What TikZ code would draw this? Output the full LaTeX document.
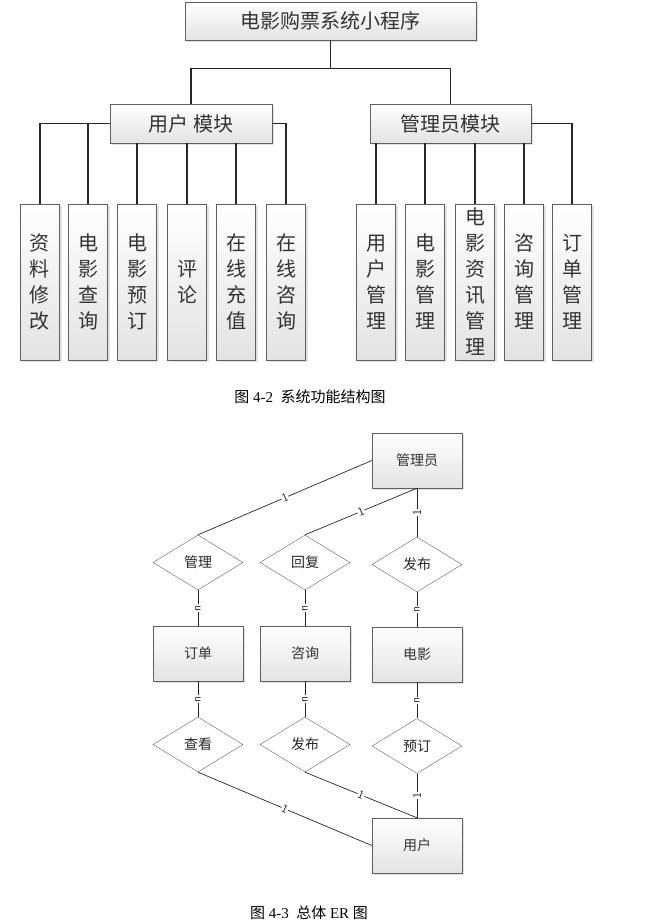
\documentclass[tikz,border=0pt]{standalone}
\usepackage{fontspec}
\setmainfont{Liberation Serif}
\newfontfamily\cjk{Noto Sans CJK SC}
\usetikzlibrary{shapes.geometric,shadows}

\begin{document}
\begin{tikzpicture}[x=1pt,y=-1pt,
        box/.style={draw=gray!75!black, top color=white, bottom color=gray!22,
            drop shadow={shadow xshift=2pt,shadow yshift=-2pt,fill=gray!45},
            text=black!80, inner sep=0pt, font=\cjk\fontsize{20}{26}\selectfont},
        leaf/.style={box, minimum width=39pt, minimum height=156pt, align=center},
        ent/.style={box, minimum width=90pt, minimum height=55pt, font=\cjk\fontsize{14}{16}\selectfont},
        rel/.style={diamond, draw=gray!75!black, fill=white, aspect=1.64, minimum width=90pt,
            minimum height=55pt, inner sep=0pt, text=black!85, font=\cjk\fontsize{14}{16}\selectfont},
        card/.style={fill=white, inner sep=0.6pt, font=\sffamily\fontsize{12}{12}\selectfont},
        tree/.style={line width=1.2pt, black!85},
        link/.style={line width=0.7pt, gray!30!black},
        caption/.style={inner sep=0pt, font=\fontsize{15}{15}\selectfont}]
        \useasboundingbox (0,0) rectangle (646,922);
        % system function structure
        \node[box, minimum width=291pt, minimum height=38pt] (sys) at (330.5,21) {电影购票系统小程序};
        \node[box, minimum width=162pt, minimum height=39pt] (umod) at (191,123.5) {用户 模块};
        \node[box, minimum width=161pt, minimum height=39pt] (amod) at (450.5,123.5) {管理员模块};
        \node[leaf] (u1) at (40,282) {资\\料\\修\\改};
        \node[leaf] (u2) at (88,282) {电\\影\\查\\询};
        \node[leaf] (u3) at (137,282) {电\\影\\预\\订};
        \node[leaf] (u4) at (187,282) {评\\论};
        \node[leaf] (u5) at (236,282) {在\\线\\充\\值};
        \node[leaf] (u6) at (286,282) {在\\线\\咨\\询};
        \node[leaf] (a1) at (376,282) {用\\户\\管\\理};
        \node[leaf] (a2) at (425,282) {电\\影\\管\\理};
        \node[leaf] (a3) at (475,282) {电\\影\\资\\讯\\管\\理};
        \node[leaf] (a4) at (524,282) {咨\\询\\管\\理};
        \node[leaf] (a5) at (572,282) {订\\单\\管\\理};
        \draw[tree] (sys.south) -- ++(0,28) coordinate (split);
        \draw[tree] (split) -| (umod.north);
        \draw[tree] (split) -| (amod.north);
        \draw[tree] (umod.west) -| (u1.north);
        \draw[tree] (umod.west) -| (u2.north);
        \draw[tree] (u3.north) -- (u3.north |- umod.south);
        \draw[tree] (u4.north) -- (u4.north |- umod.south);
        \draw[tree] (u5.north) -- (u5.north |- umod.south);
        \draw[tree] (umod.east) -| (u6.north);
        \draw[tree] (a1.north) -- (a1.north |- amod.south);
        \draw[tree] (a2.north) -- (a2.north |- amod.south);
        \draw[tree] (a3.north) -- (a3.north |- amod.south);
        \draw[tree] (a4.north) -- (a4.north |- amod.south);
        \draw[tree] (amod.east) -| (a5.north);
        \node[caption] (cap1) at (310,397) {{\cjk 图} 4-2\ \ {\cjk 系统功能结构图}};
        % overall ER diagram
        \node[ent] (admin) at (417,460.5) {管理员};
        \node[rel] (manage) at (198,562.5) {管理};
        \node[rel] (reply) at (305,562.5) {回复};
        \node[rel] (publish) at (417,564.5) {发布};
        \node[ent] (order) at (198,653.5) {订单};
        \node[ent] (consult) at (305,653.5) {咨询};
        \node[ent] (film) at (417,654.5) {电影};
        \node[rel] (view) at (198,744.5) {查看};
        \node[rel] (post) at (305,744.5) {发布};
        \node[rel] (book) at (417,746) {预订};
        \node[ent] (user) at (417,845.5) {用户};
        \draw[link] (admin.west) -- node[card, sloped] {1} (manage.north);
        \draw[link] (admin.south) -- node[card, sloped] {1} (reply.north);
        \draw[link] (admin.south) -- node[card, rotate=90] {1} (publish.north);
        \draw[link] (manage.south) -- node[card, rotate=90] {n} (order.north);
        \draw[link] (reply.south) -- node[card, rotate=90] {n} (consult.north);
        \draw[link] (publish.south) -- node[card, rotate=90] {n} (film.north);
        \draw[link] (order.south) -- node[card, rotate=90] {n} (view.north);
        \draw[link] (consult.south) -- node[card, rotate=90] {n} (post.north);
        \draw[link] (film.south) -- node[card, rotate=90] {n} (book.north);
        \draw[link] (view.south) -- node[card, sloped] {1} (user.west);
        \draw[link] (post.south) -- node[card, sloped] {1} (user.north);
        \draw[link] (book.south) -- node[card, rotate=90] {1} (user.north);
        \node[caption] (cap2) at (309,913) {{\cjk 图} 4-3\ \ {\cjk 总体} ER {\cjk 图}};
\end{tikzpicture}
\end{document}
